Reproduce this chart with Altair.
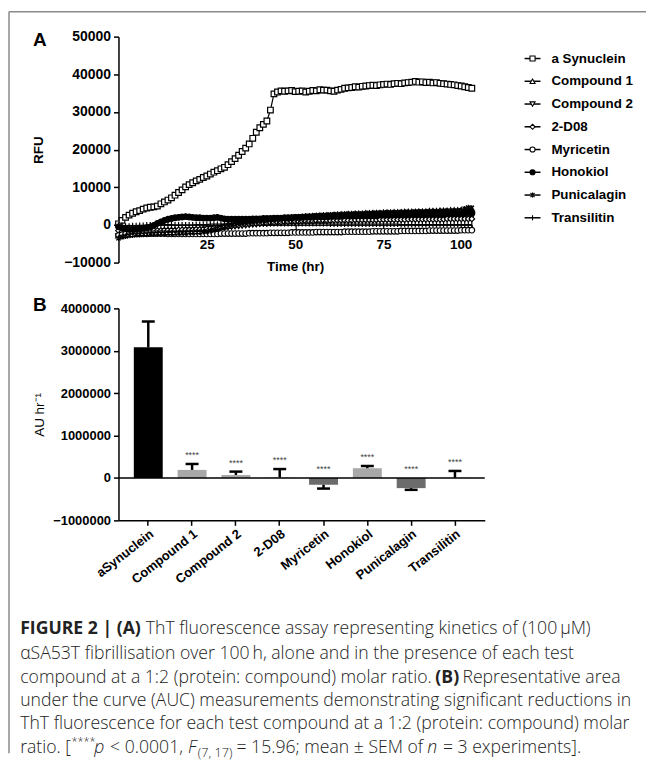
import altair as alt
import pandas as pd

# ---------------- Panel A data ----------------
TIME_HR = list(range(0, 101))
SERIES = ["a Synuclein", "Compound 1", "Compound 2", "2-D08",
          "Myricetin", "Honokiol", "Punicalagin", "Transilitin"]

A_SYN = [300, 1200, 2000, 2600, 3100, 3500, 3800, 4200, 4500, 4700,
         4800, 5000, 5600, 6100, 6600, 7200, 7900, 8600, 9300, 10100,
         10700, 11200, 11700, 12100, 12600, 13000, 13500, 14000, 14400, 14900,
         15300, 16000, 16800, 17600, 18500, 19500, 20400, 21500, 23000, 24600,
         25800, 26700, 27600, 30500, 34800, 35300, 35600, 35500, 35600, 35700,
         35400, 35500, 35600, 35300, 35500, 35700, 35600, 35900, 35800, 35800,
         35600, 35500, 35800, 36000, 36300, 36400, 36500, 36700, 36600, 36800,
         36900, 37000, 37100, 37000, 37200, 37300, 37400, 37300, 37500, 37600,
         37500, 37700, 37800, 37900, 38100, 37900, 38000, 37800, 37900, 37700,
         37800, 37600, 37500, 37400, 37300, 37200, 37000, 36900, 36700, 36500, 36300]
COMPOUND_1 = [-2800, -2600, -2500, -2400, -2300, -2300, -2200, -2200, -2100, -2100,
              -2000, -2000, -2000, -1900, -1900, -1900, -1800, -1800, -1800, -1700,
              -1700, -1600, -1600, -1500, -1400, -1300, -1200, -1000, -800, -600,
              -400, -200, 0, 200, 300, 500, 600, 700, 900, 1000,
              1100, 1200, 1300, 1400, 1500, 1600, 1700, 1800, 1900, 2000,
              2000, 2100, 2200, 2200, 2300, 2400, 2400, 2500, 2500, 2600,
              2600, 2700, 2700, 2800, 2800, 2900, 2900, 3000, 3000, 3000,
              3100, 3100, 3200, 3200, 3200, 3300, 3300, 3300, 3400, 3400,
              3400, 3500, 3500, 3500, 3500, 3600, 3600, 3600, 3700, 3700,
              3700, 3800, 3800, 3800, 3900, 3900, 3900, 4000, 4000, 4100, 4200]
COMPOUND_2 = [-3000, -2700, -2500, -2300, -2200, -2100, -2000, -2000, -1900, -1900,
              -1800, -1800, -1800, -1700, -1700, -1700, -1600, -1600, -1600, -1500,
              -1500, -1500, -1400, -1400, -1300, -1200, -1100, -1000, -900, -800,
              -700, -600, -500, -400, -300, -200, -100, 0, 100, 200,
              300, 400, 400, 500, 600, 600, 700, 700, 800, 800,
              900, 900, 1000, 1000, 1100, 1100, 1200, 1200, 1200, 1300,
              1300, 1300, 1400, 1400, 1400, 1500, 1500, 1500, 1500, 1600,
              1600, 1600, 1600, 1700, 1700, 1700, 1700, 1800, 1800, 1800,
              1800, 1800, 1900, 1900, 1900, 1900, 1900, 2000, 2000, 2000,
              2000, 2000, 2100, 2100, 2100, 2100, 2100, 2200, 2200, 2200, 2200]
D08 = [-1500, -1700, -1800, -1800, -1700, -1700, -1600, -1600, -1600, -1500,
       -1500, -1500, -1500, -1400, -1400, -1400, -1400, -1300, -1300, -1300,
       -1300, -1300, -1200, -1200, -1100, -1000, -900, -800, -700, -600,
       -500, -400, -300, -200, -100, 0, 100, 200, 300, 300,
       400, 500, 500, 600, 600, 700, 700, 800, 800, 900,
       900, 900, 1000, 1000, 1000, 1000, 1100, 1100, 1100, 1100,
       1100, 1200, 1200, 1200, 1200, 1200, 1200, 1300, 1300, 1300,
       1300, 1300, 1300, 1300, 1400, 1400, 1400, 1400, 1400, 1400,
       1400, 1400, 1500, 1500, 1500, 1500, 1500, 1500, 1500, 1500,
       1500, 1500, 1500, 1600, 1600, 1600, 1600, 1600, 1600, 1600, 1600]
MYRICETIN = [-2800, -2600, -2500, -2400, -2400, -2300, -2300, -2300, -2300, -2300,
             -2300, -2300, -2300, -2300, -2400, -2400, -2400, -2400, -2400, -2400,
             -2400, -2400, -2400, -2400, -2400, -2400, -2400, -2400, -2400, -2300,
             -2300, -2300, -2300, -2300, -2300, -2300, -2300, -2200, -2200, -2200,
             -2200, -2200, -2200, -2100, -2100, -2100, -2100, -2100, -2100, -2000,
             -2000, -2000, -2000, -2000, -2000, -2000, -1900, -1900, -1900, -1900,
             -1900, -1900, -1900, -1900, -1800, -1800, -1800, -1800, -1800, -1800,
             -1800, -1800, -1700, -1700, -1700, -1700, -1700, -1700, -1700, -1700,
             -1600, -1600, -1600, -1600, -1600, -1600, -1600, -1600, -1500, -1500,
             -1500, -1500, -1500, -1500, -1500, -1500, -1500, -1400, -1400, -1400, -1400]
HONOKIOL = [-500, -800, -1000, -1200, -1200, -1100, -1000, -900, -800, -500,
            -100, 400, 800, 1200, 1500, 1700, 1900, 2000, 2100, 2200,
            2100, 2000, 1900, 1900, 1800, 1800, 1800, 1900, 2000, 1800,
            1600, 1500, 1500, 1500, 1500, 1500, 1500, 1500, 1600, 1600,
            1600, 1700, 1700, 1700, 1800, 1800, 1800, 1900, 1900, 1900,
            2000, 2000, 2000, 2100, 2100, 2100, 2200, 2200, 2200, 2200,
            2300, 2300, 2300, 2300, 2400, 2400, 2400, 2400, 2500, 2500,
            2500, 2500, 2500, 2600, 2600, 2600, 2600, 2600, 2700, 2700,
            2700, 2700, 2700, 2800, 2800, 2800, 2800, 2800, 2900, 2900,
            2900, 2900, 2900, 3000, 3000, 3000, 3000, 3000, 3100, 3300, 3200]
PUNICALAGIN = [-3500, -3200, -3000, -2800, -2700, -2600, -2600, -2500, -2500, -2400,
               -2400, -2300, -2300, -2300, -2200, -2200, -2200, -2100, -2100, -2100,
               -2000, -2000, -1900, -1900, -1800, -1700, -1500, -1300, -1000, -700,
               -400, -200, 0, 200, 400, 500, 700, 800, 900, 1000,
               1100, 1200, 1300, 1400, 1500, 1600, 1700, 1800, 1900, 2000,
               2100, 2100, 2200, 2300, 2300, 2400, 2500, 2500, 2600, 2600,
               2700, 2700, 2800, 2800, 2900, 2900, 2900, 3000, 3000, 3000,
               3100, 3100, 3100, 3200, 3200, 3200, 3300, 3300, 3300, 3300,
               3400, 3400, 3400, 3400, 3500, 3500, 3500, 3500, 3600, 3600,
               3600, 3600, 3700, 3700, 3700, 3700, 3800, 3800, 4300, 4600, 4500]
TRANSILITIN = [0, -200, -300, -300, -200, -200, -100, -100, 0, 0,
               0, 0, 0, 100, 100, 100, 0, 0, 0, 0,
               0, 0, 100, 100, 100, 100, 200, 200, 200, 200,
               300, 300, 300, 300, 300, 300, 300, 300, 300, 300,
               300, 300, 300, 300, 300, 300, 300, 300, 300, 300,
               300, 300, 300, 300, 300, 300, 300, 300, 300, 300,
               200, 200, 200, 200, 200, 200, 200, 200, 200, 200,
               200, 200, 200, 200, 200, 200, 200, 200, 200, 200,
               100, 100, 100, 100, 100, 100, 100, 100, 100, 100,
               100, 100, 100, 100, 100, 100, 100, 100, 100, 100, 100]

# ---------------- Panel B data ----------------
COMPOUNDS = ["aSynuclein", "Compound 1", "Compound 2", "2-D08",
             "Myricetin", "Honokiol", "Punicalagin", "Transilitin"]
AUC_MEAN = [3080000, 190000, 70000, 10000, -160000, 230000, -240000, 5000]
AUC_SEM = [610000, 140000, 80000, 200000, 90000, 50000, 40000, 160000]
STARS = ["", "****", "****", "****", "****", "****", "****", "****"]

# caption text, one list of runs per printed line
CAPTION_LINES = [
    ["FIGURE 2 | (A)", " ThT fluorescence assay representing kinetics of (100\u2009\u00b5M)"],
    ["\u03b1SA53T fibrillisation over 100\u2009h, alone and in the presence of each test"],
    ["compound at a 1:2 (protein: compound) molar ratio. ", "(B)", " Representative area"],
    ["under the curve (AUC) measurements demonstrating significant reductions in"],
    ["ThT fluorescence for each test compound at a 1:2 (protein: compound) molar"],
    ["ratio. [", "****", "p", " < 0.0001, ", "F", "(7, 17)", " = 15.96; mean \u00b1 SEM of ", "n",
     " = 3 experiments]."],
]

# ---------------- styles ----------------
FONT = "Liberation Sans"
CAP_FONT = "Open Sans"
CAP_SIZE = 17.7
WIDTH_FACTOR = 0.96
CAPTION_STYLES = [["b", "r"], ["r"], ["r", "b", "r"], ["r"], ["r"],
                  ["r", "sup", "i", "r", "i", "sub", "r", "i", "r"]]
SHAPES = ["square", "triangle-up", "triangle-down", "diamond", "circle", "circle",
          "M-0.8,-0.8L0.8,0.8M-0.8,0.8L0.8,-0.8M0,-1L0,1", "M0,-1L0,1"]
FILLS = ["white", "white", "white", "white", "white", "black", "black", "black"]
BAR_COLORS = ["#000000", "#a8a8a8", "#a8a8a8", "#b5b5b5", "#6c6c6c", "#a8a8a8", "#6c6c6c", "#b5b5b5"]

series_vals = [A_SYN, COMPOUND_1, COMPOUND_2, D08, MYRICETIN, HONOKIOL, PUNICALAGIN, TRANSILITIN]
rows = []
for name, vals in zip(SERIES, series_vals):
    for t, v in zip(TIME_HR, vals):
        rows.append({"series": name, "t": t, "rfu": v})
dfA = pd.DataFrame(rows)

WA, HA = 355, 227
WB, HB = 368, 213

shape_enc = alt.Shape("series:N", scale=alt.Scale(domain=SERIES, range=SHAPES), legend=None)
fill_enc = alt.Fill("series:N", scale=alt.Scale(domain=SERIES, range=FILLS), legend=None)

xA = alt.X("t:Q", scale=alt.Scale(domain=[0, 100], nice=False),
           axis=alt.Axis(values=[25, 50, 75, 100], offset=-(HA / 6.0), title="Time (hr)",
                         tickSize=5, labelPadding=8, titlePadding=8,
                         labelFontSize=13.5, titleFontSize=13.5, domainWidth=1, tickWidth=1.2))
yA = alt.Y("rfu:Q", scale=alt.Scale(domain=[-10000, 50000], nice=False),
           axis=alt.Axis(values=list(range(-10000, 50001, 10000)), format="d", title="RFU",
                         tickSize=5, labelPadding=3, titlePadding=18,
                         labelFontSize=14, titleFontSize=13.5, domainWidth=1.5, tickWidth=1.5))

lines = alt.Chart(dfA).mark_line(color="black", strokeWidth=1.2).encode(
    x=xA, y=yA, detail="series:N")
points = alt.Chart(dfA).mark_point(filled=True, stroke="black", strokeWidth=1.2, size=32, opacity=1).encode(
    x=xA, y=yA, shape=shape_enc, fill=fill_enc)
data_layer = alt.layer(lines, points)

dfLeg = pd.DataFrame({"series": SERIES})
yLeg = alt.Y("series:N", scale=alt.Scale(type="point", domain=SERIES, range=[22, 182], padding=0), axis=None)
leg_rule = alt.Chart(dfLeg).mark_rule(color="black", strokeWidth=1.5).encode(
    x=alt.value(408), x2=alt.value(424), y=yLeg)
leg_pt = alt.Chart(dfLeg).mark_point(filled=True, stroke="black", strokeWidth=1.1, size=26, opacity=1).encode(
    x=alt.value(416), y=yLeg, shape=shape_enc, fill=fill_enc)
leg_txt = alt.Chart(dfLeg).mark_text(align="left", baseline="middle", font=FONT, fontSize=13.4,
                                     fontWeight="bold", color="black").encode(
    x=alt.value(435), y=yLeg, text="series:N")
legend_layer = alt.layer(leg_rule, leg_pt, leg_txt)

one = pd.DataFrame({"k": [0]})
frame_top = alt.Chart(one).mark_rule(color="#8a8a8a", strokeWidth=1.5).encode(
    x=alt.value(-110), x2=alt.value(530), y=alt.value(-25))
frame_left = alt.Chart(one).mark_rule(color="#8a8a8a", strokeWidth=1.5).encode(
    x=alt.value(-110), y=alt.value(-25), y2=alt.value(720))
letter_a = alt.Chart(one).mark_text(text="A", font=FONT, fontSize=19, fontWeight="bold",
                                    align="center", baseline="middle", color="black").encode(
    x=alt.value(-79), y=alt.value(3))

panelA = alt.layer(frame_top, frame_left, letter_a, data_layer, legend_layer).resolve_scale(
    y="independent").properties(width=WA, height=HA)

# ---------------- Panel B ----------------
dfB = pd.DataFrame({"compound": COMPOUNDS, "mean": AUC_MEAN, "sem": AUC_SEM, "stars": STARS})
dfB["end"] = [m + s if m >= 0 else m - s for m, s in zip(dfB["mean"], dfB["sem"])]
dfB["star_y"] = dfB["end"].clip(lower=0)

xB = alt.X("compound:N", sort=COMPOUNDS,
           scale=alt.Scale(domain=COMPOUNDS, paddingInner=0.34, paddingOuter=0.35),
           axis=alt.Axis(title=None, labelAngle=-38, tickSize=5, labelPadding=2,
                         labelFontSize=13, domainWidth=1.5, tickWidth=1.5))
yB_axis = alt.Axis(values=list(range(-1000000, 4000001, 1000000)), format="d", title="AU hr\u207b\u00b9",
                   tickSize=5, labelPadding=3, titlePadding=6, labelFontSize=13,
                   titleFontSize=13.5, titleFontWeight="normal", domainWidth=1.5, tickWidth=1.5)
yB_scale = alt.Scale(domain=[-1000000, 4000000], nice=False)

bars = alt.Chart(dfB).mark_bar().encode(
    x=xB, y=alt.Y("mean:Q", scale=yB_scale, axis=yB_axis),
    color=alt.Color("compound:N", scale=alt.Scale(domain=COMPOUNDS, range=BAR_COLORS), legend=None))
zero = alt.Chart(pd.DataFrame({"z": [0]})).mark_rule(color="black", strokeWidth=1.5).encode(
    y=alt.Y("z:Q", scale=yB_scale))
err = alt.Chart(dfB).mark_rule(color="black", strokeWidth=2.5).encode(
    x=xB, y=alt.Y("mean:Q", scale=yB_scale), y2="end:Q")
cap = alt.Chart(dfB).mark_tick(color="black", size=13, thickness=2.5, opacity=1).encode(
    x=xB, y=alt.Y("end:Q", scale=yB_scale))
stars = alt.Chart(dfB).mark_text(dy=-9, fontSize=9, color="#444", font=FONT, baseline="middle").encode(
    x=xB, y=alt.Y("star_y:Q", scale=yB_scale), text="stars:N")
letter_b = alt.Chart(one).mark_text(text="B", font=FONT, fontSize=19, fontWeight="bold",
                                    align="center", baseline="middle", color="black").encode(
    x=alt.value(-79), y=alt.value(-3))

# approximate advance widths (em) used only to chain the caption's styled runs
W = {" ": .26, "a": .556, "b": .613, "c": .476, "d": .613, "e": .561, "f": .339, "g": .548,
     "h": .614, "i": .253, "j": .253, "k": .525, "l": .253, "m": .93, "n": .614, "o": .604,
     "p": .613, "q": .613, "r": .408, "s": .477, "t": .353, "u": .614, "v": .499, "w": .786,
     "x": .531, "y": .499, "z": .47, ".": .266, ",": .244, ";": .266, ":": .266, "[": .329,
     "]": .329, "(": .296, ")": .296, "<": .572, "=": .572, "\u00b1": .572, "*": .547,
     "|": .55, "\u2009": .17, "\u00b5": .62, "\u03b1": .62, "A": .633, "B": .631, "C": .619,
     "E": .556, "F": .518, "G": .705, "I": .279, "M": .907, "R": .6, "S": .536, "T": .536,
     "U": .729}
for d in "0123456789":
    W[d] = .572


def tw(s, size, bold=False):
    return sum(W.get(ch, 0.56) for ch in s) * size * WIDTH_FACTOR * (1.1 if bold else 1.0)


LINE_Y = [322, 347, 371, 395, 418, 442]
X0 = -98.75
caption = []
for li, runs in enumerate(CAPTION_LINES):
    x = X0
    for ri, s in enumerate(runs):
        st = CAPTION_STYLES[li][ri]
        size = CAP_SIZE * (0.62 if st == "sup" else 0.72 if st == "sub" else 1.0)
        dy = -6 if st == "sup" else 5 if st == "sub" else 0
        bold = st == "b"
        if st == "i" and ri > 0 and runs[ri - 1].endswith(" "):
            x += 2.5  # italic glyph overhang
        lead = len(s) - len(s.lstrip(" "))
        caption.append(
            alt.Chart(pd.DataFrame({"s": [s.strip()]})).mark_text(
                align="left", baseline="middle", font=CAP_FONT, fontSize=size,
                fontWeight="bold" if bold else 300, fontStyle="italic" if st == "i" else "normal",
                color="#222", dy=dy
            ).encode(x=alt.value(x + lead * W[" "] * size * WIDTH_FACTOR), y=alt.value(LINE_Y[li]),
                     text="s:N"))
        x += tw(s, size, bold)
        if st == "i":
            x += 1.0

panelB = alt.layer(bars, zero, err, cap, stars, letter_b, *caption).properties(width=WB, height=HB)

chart = alt.vconcat(panelA, panelB, spacing=46, bounds="flush").properties(
    padding={"left": 0, "top": 1, "right": 0, "bottom": 0}
).configure_view(stroke=None).configure_axis(
    labelFont=FONT, titleFont=FONT, labelFontWeight="bold", titleFontWeight="bold",
    labelColor="black", titleColor="black", domainColor="black", tickColor="black", grid=False
)

chart.save("out.html", embed_options={"renderer": "svg", "actions": False})
